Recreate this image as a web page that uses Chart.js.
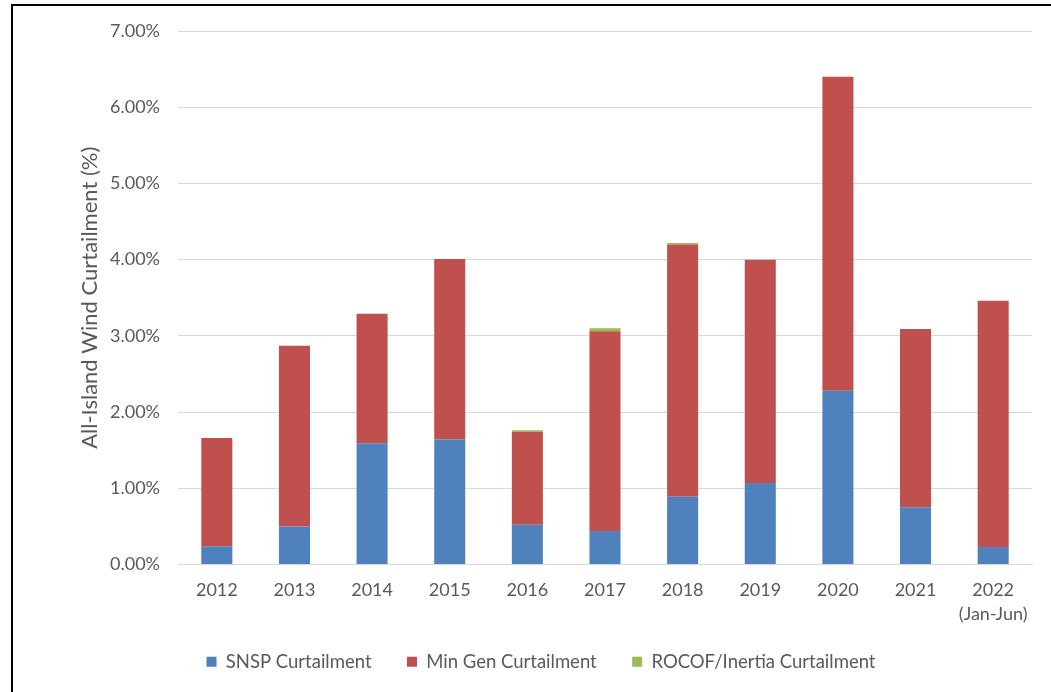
<!DOCTYPE html>
<html>
<head>
<meta charset="utf-8">
<script src="https://cdn.jsdelivr.net/npm/chart.js@4/dist/chart.umd.min.js"></script>
<style>
  html, body { margin: 0; padding: 0; background: #fff; overflow: hidden; }
  #wrap { position: relative; width: 1051px; height: 692px; }
  #frame { position: absolute; left: 11px; top: 4px; width: 1060px; height: 720px;
           border-top: 2px solid #000; border-left: 2px solid #000; pointer-events: none; }
</style>
</head>
<body>
<div id="wrap">
  <canvas id="curtailmentChart" width="1051" height="692"></canvas>
  <div id="frame"></div>
</div>
<script>
// Years on the x axis (last one is a half year)
const years = ['2012', '2013', '2014', '2015', '2016', '2017', '2018', '2019', '2020', '2021', ['2022', '(Jan-Jun)']];

// Curtailment per cause, in % of available wind energy
const snspCurtailment = [0.24, 0.50, 1.59, 1.64, 0.52, 0.44, 0.89, 1.07, 2.28, 0.75, 0.23];
const minGenCurtailment = [1.42, 2.37, 1.70, 2.37, 1.22, 2.62, 3.31, 2.93, 4.12, 2.34, 3.23];
const rocofCurtailment = [0, 0, 0, 0, 0.02, 0.04, 0.02, 0, 0, 0, 0];

const yMax = 7;
const yStep = 1;

const fontFamily = 'Lato, "Liberation Sans", sans-serif';
const textColor = '#595959';

// the legend sits centred on the whole frame, not on the plot, so nudge it right
const legendShift = {
    id: 'legendShift',
    afterLayout: function(chart) {
        chart.legend.left += 25;
        chart.legend.right += 25;
    }
};

function drawChart() {
    const ctx = document.querySelector('#curtailmentChart').getContext('2d');
    new Chart(ctx, {
        type: 'bar',
        data: {
            labels: years,
            datasets: [{
                label: 'SNSP Curtailment',
                data: snspCurtailment,
                backgroundColor: '#4F81BD'
            }, {
                label: 'Min Gen Curtailment',
                data: minGenCurtailment,
                backgroundColor: '#C0504D'
            }, {
                label: 'ROCOF/Inertia Curtailment',
                data: rocofCurtailment,
                backgroundColor: '#9BBB59'
            }]
        },
        options: {
            responsive: false,
            animation: false,
            categoryPercentage: 1,
            barPercentage: 0.4,
            layout: { padding: { left: 0, right: 19, top: 31, bottom: 11 } },
            plugins: {
                tooltip: { enabled: false },
                legend: {
                    position: 'bottom',
                    labels: {
                        boxWidth: 10,
                        boxHeight: 10,
                        padding: 26,
                        color: textColor,
                        font: { family: fontFamily, size: 18.5 },
                        // a bit more room between items than the padding gives
                        generateLabels: function(chart) {
                            const items = Chart.defaults.plugins.legend.labels.generateLabels(chart);
                            items.forEach((item, i) => {
                                if (i < items.length - 1) item.text = item.text + '  ';
                            });
                            return items;
                        }
                    }
                }
            },
            scales: {
                x: {
                    stacked: true,
                    grid: { display: false, drawTicks: false },
                    border: { display: true, color: '#D9D9D9', width: 1 },
                    ticks: {
                        color: textColor,
                        padding: 14,
                        maxRotation: 0,
                        font: { family: fontFamily, size: 18, lineHeight: 24 / 18 }
                    },
                    afterFit: function(scale) { scale.height = 62; }
                },
                y: {
                    stacked: true,
                    min: 0,
                    max: yMax,
                    grid: { color: '#D9D9D9', lineWidth: 1, drawTicks: false },
                    border: { display: false },
                    ticks: {
                        stepSize: yStep,
                        color: textColor,
                        padding: 18,
                        font: { family: fontFamily, size: 18 },
                        callback: function(value) { return value.toFixed(2) + '%'; }
                    },
                    title: {
                        display: true,
                        text: 'All-Island Wind Curtailment (%)',
                        color: textColor,
                        padding: { top: 79, bottom: 0 },
                        font: { family: fontFamily, size: 22, lineHeight: 1 }
                    },
                    afterFit: function(scale) { scale.width = 178; }
                }
            }
        },
        plugins: [legendShift]
    });
}

document.addEventListener('DOMContentLoaded', function() {
    drawChart();
});
</script>
</body>
</html>
